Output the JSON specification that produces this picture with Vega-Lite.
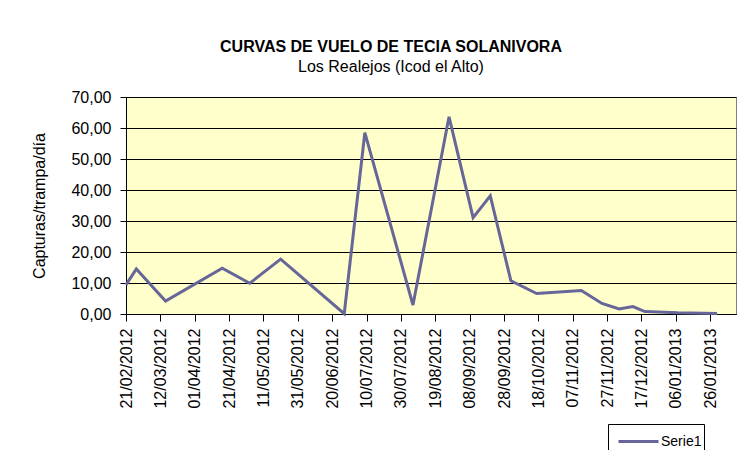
{
  "$schema": "https://vega.github.io/schema/vega-lite/v6.json",
  "width": 610,
  "height": 217,
  "autosize": {"type": "none"},
  "padding": {"left": 126, "top": 97, "right": 18, "bottom": 136},
  "background": "white",
  "title": {
    "text": "CURVAS DE VUELO DE TECIA SOLANIVORA",
    "subtitle": "Los Realejos (Icod el Alto)",
    "anchor": "middle",
    "dx": -40,
    "offset": 14,
    "font": "Liberation Sans",
    "fontSize": 16,
    "fontWeight": "bold",
    "color": "black",
    "subtitleFont": "Liberation Sans",
    "subtitleFontSize": 16,
    "subtitleColor": "black",
    "subtitlePadding": 4
  },
  "config": {
    "locale": {"number": {"decimal": ",", "thousands": ".", "grouping": [3], "currency": ["", " €"]}},
    "view": {"fill": "#FFFFCC", "stroke": "#808080", "strokeWidth": 1},
    "axis": {
      "labelFont": "Liberation Sans",
      "titleFont": "Liberation Sans",
      "labelColor": "black",
      "titleColor": "black",
      "domainColor": "black",
      "tickColor": "black",
      "tickSize": 6
    }
  },
  "data": {
    "values": [
      {"fecha": "2012-02-21", "capturas": 9.4, "serie": "Serie1"},
      {"fecha": "2012-02-27", "capturas": 14.5, "serie": "Serie1"},
      {"fecha": "2012-03-15", "capturas": 4.2, "serie": "Serie1"},
      {"fecha": "2012-04-17", "capturas": 14.8, "serie": "Serie1"},
      {"fecha": "2012-05-03", "capturas": 9.9, "serie": "Serie1"},
      {"fecha": "2012-05-21", "capturas": 17.7, "serie": "Serie1"},
      {"fecha": "2012-06-27", "capturas": 0.1, "serie": "Serie1"},
      {"fecha": "2012-07-09", "capturas": 58.5, "serie": "Serie1"},
      {"fecha": "2012-08-06", "capturas": 2.9, "serie": "Serie1"},
      {"fecha": "2012-08-27", "capturas": 63.6, "serie": "Serie1"},
      {"fecha": "2012-09-10", "capturas": 31.1, "serie": "Serie1"},
      {"fecha": "2012-09-20", "capturas": 38.1, "serie": "Serie1"},
      {"fecha": "2012-10-02", "capturas": 10.7, "serie": "Serie1"},
      {"fecha": "2012-10-17", "capturas": 6.6, "serie": "Serie1"},
      {"fecha": "2012-11-12", "capturas": 7.6, "serie": "Serie1"},
      {"fecha": "2012-11-24", "capturas": 3.4, "serie": "Serie1"},
      {"fecha": "2012-12-04", "capturas": 1.6, "serie": "Serie1"},
      {"fecha": "2012-12-12", "capturas": 2.4, "serie": "Serie1"},
      {"fecha": "2012-12-19", "capturas": 0.8, "serie": "Serie1"},
      {"fecha": "2013-01-07", "capturas": 0.4, "serie": "Serie1"},
      {"fecha": "2013-01-30", "capturas": 0.2, "serie": "Serie1"}
    ]
  },
  "mark": {"type": "line", "strokeWidth": 3},
  "encoding": {
    "x": {
      "field": "fecha",
      "type": "temporal",
      "timeUnit": "utcyearmonthdate",
      "scale": {
        "domain": [
          {"year": 2012, "month": 2, "date": 21, "utc": true},
          {"year": 2013, "month": 2, "date": 10, "utc": true}
        ]
      },
      "axis": {
        "title": null,
        "grid": false,
        "format": "%d/%m/%Y",
        "labelAngle": -90,
        "labelAlign": "right",
        "labelBaseline": "middle",
        "labelFontSize": 16,
        "labelPadding": 7,
        "tickSize": 7,
        "labelOverlap": false,
        "labelFlush": false,
        "values": [
          {"year": 2012, "month": 2, "date": 21, "utc": true},
          {"year": 2012, "month": 3, "date": 12, "utc": true},
          {"year": 2012, "month": 4, "date": 1, "utc": true},
          {"year": 2012, "month": 4, "date": 21, "utc": true},
          {"year": 2012, "month": 5, "date": 11, "utc": true},
          {"year": 2012, "month": 5, "date": 31, "utc": true},
          {"year": 2012, "month": 6, "date": 20, "utc": true},
          {"year": 2012, "month": 7, "date": 10, "utc": true},
          {"year": 2012, "month": 7, "date": 30, "utc": true},
          {"year": 2012, "month": 8, "date": 19, "utc": true},
          {"year": 2012, "month": 9, "date": 8, "utc": true},
          {"year": 2012, "month": 9, "date": 28, "utc": true},
          {"year": 2012, "month": 10, "date": 18, "utc": true},
          {"year": 2012, "month": 11, "date": 7, "utc": true},
          {"year": 2012, "month": 11, "date": 27, "utc": true},
          {"year": 2012, "month": 12, "date": 17, "utc": true},
          {"year": 2013, "month": 1, "date": 6, "utc": true},
          {"year": 2013, "month": 1, "date": 26, "utc": true}
        ]
      }
    },
    "y": {
      "field": "capturas",
      "type": "quantitative",
      "scale": {"domain": [0, 70], "nice": false},
      "axis": {
        "title": "Capturas/trampa/día",
        "titleFontSize": 16,
        "titleFontWeight": "normal",
        "titlePadding": 23,
        "values": [0, 10, 20, 30, 40, 50, 60, 70],
        "format": ".2f",
        "labelFontSize": 16,
        "labelPadding": 9,
        "grid": true,
        "gridColor": "black",
        "gridWidth": 1,
        "gridOpacity": 1
      }
    },
    "color": {
      "field": "serie",
      "type": "nominal",
      "scale": {"range": ["#666699"]},
      "legend": {
        "title": null,
        "orient": "none",
        "legendX": 482,
        "legendY": 327,
        "strokeColor": "black",
        "fillColor": "white",
        "padding": 2,
        "symbolOffset": 13,
        "cornerRadius": 0,
        "symbolType": "M-1.43,0H1.43",
        "symbolSize": 784,
        "symbolStrokeWidth": 3,
        "labelFont": "Liberation Sans",
        "labelFontSize": 14,
        "labelColor": "black",
        "labelOffset": 7
      }
    }
  }
}
